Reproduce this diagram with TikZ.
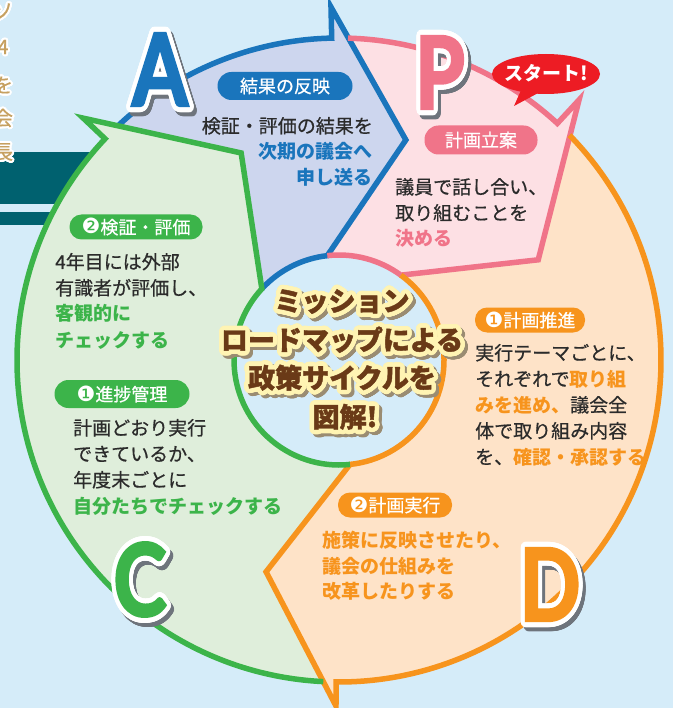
\documentclass[tikz,border=0pt]{standalone}
\usepackage{fontspec}
\setmainfont{Noto Sans CJK JP}[UprightFeatures={FakeBold=0.6}]
\newfontfamily\ttlfont{Noto Sans CJK JP}[BoldFeatures={FakeBold=1.6}]
\newfontfamily\djv{DejaVu Sans}
\newfontfamily\latn{Lato}[BoldFeatures={FakeBold=3}]
\usepackage{graphicx}
\usepackage[copies]{contour}
\contournumber{32}
\definecolor{bgc}{HTML}{D5ECF9}
\definecolor{blueO}{HTML}{1A75BC}
\definecolor{blueF}{HTML}{CDD6EE}
\definecolor{pinkO}{HTML}{F07489}
\definecolor{pinkF}{HTML}{FDE0E4}
\definecolor{oranO}{HTML}{F7941D}
\definecolor{oranF}{HTML}{FEE3C8}
\definecolor{grnO}{HTML}{3CB44A}
\definecolor{grnF}{HTML}{DFEEDB}
\definecolor{tealc}{HTML}{00616F}
\definecolor{txt}{HTML}{2B2B2B}
\definecolor{brn}{HTML}{6A3A17}
\definecolor{ylw}{HTML}{FFF4B3}
\definecolor{goldc}{HTML}{C6A060}
\definecolor{redc}{HTML}{ED1C24}
\definecolor{shd}{HTML}{6E747C}
\definecolor{tshd}{HTML}{9A8C72}
\newcommand\cnum[1]{{\djv\fontsize{21}{18}\selectfont #1}}
\begin{document}
\begin{tikzpicture}[x=1pt,y=-1pt,
  body/.style={inner sep=0pt, text=txt, font=\fontsize{19}{24}\selectfont, anchor=base west},
  pill/.style={rounded corners=12pt, inner sep=0pt, text=white, font=\fontsize{18}{18}\selectfont},
  big/.style={inner sep=0pt, font=\latn\bfseries\fontsize{100}{100}\selectfont},
  ttl/.style={inner sep=0pt, text=brn, font=\ttlfont\bfseries\fontsize{27}{27}\selectfont, anchor=base},
  ttlsh/.style={inner sep=0pt, text=tshd, font=\ttlfont\bfseries\fontsize{27}{27}\selectfont, anchor=base},
  goldt/.style={inner sep=0pt, text=goldc, font=\fontsize{20}{20}\selectfont},
  outl/.style={line width=5.5pt}
]
\useasboundingbox (0,0) rectangle (673,708);
\fill[bgc] (0,0) rectangle (673,708);
% left decorations
\fill[tealc] (0,152) rectangle (220,204);
\fill[tealc] (0,212) rectangle (220,225);
\node[goldt] (g1) at (3,12) {\contourlength{2pt}\contour{white}{ソ}};
\node[goldt] (g2) at (3,48) {\contourlength{2pt}\contour{white}{4}};
\node[goldt] (g3) at (3,86) {\contourlength{2pt}\contour{white}{を}};
\node[goldt] (g4) at (3,119) {\contourlength{2pt}\contour{white}{会}};
\node[goldt] (g5) at (3,153) {\contourlength{2pt}\contour{white}{長}};
% ring
\begin{scope}[shift={(339,360)}]
\fill[bgc] (0,0) circle[radius=105];
\fill[blueF] (-133.5:322) arc[start angle=-133.5,end angle=-91.3,radius=322] -- (-91.3:353) -- (-73.1:230) -- (-96.4:105) arc[start angle=-96.4,end angle=-137.3,radius=105] -- (-115.3:229) -- cycle;
\fill[pinkF] (-88.4:322) arc[start angle=-88.4,end angle=-47.3,radius=322] -- (-47.3:354) -- (-26.7:223) -- (-53.9:105) arc[start angle=-53.9,end angle=-96.4,radius=105] -- (-73.1:230) -- cycle;
\fill[oranF] (-44.3:322) arc[start angle=-44.3,end angle=90.5,radius=322] -- (90.5:346) -- (109:224) -- (84:105) arc[start angle=84,end angle=-53.9,radius=105] -- (-26.7:223) -- cycle;
\fill[grnF] (92.8:322) arc[start angle=92.8,end angle=223.4,radius=322] -- (223.4:352) -- (244.7:229) -- (222.7:105) arc[start angle=222.7,end angle=84,radius=105] -- (109:224) -- cycle;
\draw[outl,blueO] (-133.5:322) arc[start angle=-133.5,end angle=-91.3,radius=322] -- (-91.3:353) -- (-73.1:230) -- (-96.4:105) arc[start angle=-96.4,end angle=-137.3,radius=105];
\draw[outl,pinkO] (-88.4:322) arc[start angle=-88.4,end angle=-47.3,radius=322] -- (-47.3:354) -- (-26.7:223) -- (-53.9:105) arc[start angle=-53.9,end angle=-96.4,radius=105];
\draw[outl,oranO] (-44.3:322) arc[start angle=-44.3,end angle=90.5,radius=322] -- (90.5:346) -- (109:224) -- (84:105) arc[start angle=84,end angle=-53.9,radius=105];
\draw[outl,grnO] (92.8:322) arc[start angle=92.8,end angle=223.4,radius=322] -- (223.4:352) -- (244.7:229) -- (222.7:105) arc[start angle=222.7,end angle=84,radius=105];
\end{scope}
% pills
\node[pill, fill=blueO, minimum width=135pt, minimum height=28pt, rounded corners=14pt] (pA) at (285,86) {結果の反映};
\node[pill, fill=pinkO, minimum width=113pt, minimum height=29pt, rounded corners=14pt] (pP) at (481,140) {計画立案};
\node[pill, fill=grnO, minimum width=133pt, minimum height=25pt] (pC2) at (136,227) {\cnum{❷}検証・評価};
\node[pill, fill=oranO, minimum width=110pt, minimum height=25pt] (pD1) at (530,320) {\cnum{❶}計画推進};
\node[pill, fill=grnO, minimum width=135pt, minimum height=28pt, rounded corners=14pt] (pC1) at (122,394) {\cnum{❶}進捗管理};
\node[pill, fill=oranO, minimum width=114pt, minimum height=25pt] (pD2) at (395,505) {\cnum{❷}計画実行};
% A block
\node[body, anchor=base east] (tA1) at (373,133) {検証・評価の結果を};
\node[body, anchor=base east] (tA2) at (373,159) {\bfseries\color{blueO}次期の議会へ};
\node[body, anchor=base east] (tA3) at (373,185) {\bfseries\color{blueO}申し送る};
% P block
\node[body] (tP1) at (395,194) {議員で話し合い、};
\node[body] (tP2) at (395,220) {取り組むことを};
\node[body] (tP3) at (395,246) {\bfseries\color{pinkO}決める};
% check block
\node[body] (tC1) at (55,269) {4年目には外部};
\node[body] (tC2) at (55,295) {有識者が評価し、};
\node[body] (tC3) at (55,320) {\bfseries\color{grnO}客観的に};
\node[body] (tC4) at (55,347) {\bfseries\color{grnO}チェックする};
% progress block
\node[body] (tK1) at (73,435) {計画どおり実行};
\node[body] (tK2) at (73,461) {できているか、};
\node[body] (tK3) at (73,487) {年度末ごとに};
\node[body] (tK4) at (73,513) {\bfseries\color{grnO}自分たちでチェックする};
% suishin block
\node[body] (tS1) at (475,360) {実行テーマごとに、};
\node[body] (tS2) at (475,386) {それぞれで{\bfseries\color{oranO}取り組}};
\node[body] (tS3) at (475,412) {{\bfseries\color{oranO}みを進め、}議会全};
\node[body] (tS4) at (475,438) {体で取り組み内容};
\node[body] (tS5) at (475,464) {を、{\bfseries\color{oranO}確認・承認する}};
% jikko block
\node[body] (tJ1) at (322,547) {\bfseries\color{oranO}施策に反映させたり、};
\node[body] (tJ2) at (322,573) {\bfseries\color{oranO}議会の仕組みを};
\node[body] (tJ3) at (322,598) {\bfseries\color{oranO}改革したりする};
% big letters
\node[big, text=shd] (Ash) at (163,76) {\scalebox{0.8}[1]{\contourlength{5pt}\contour{shd}{A}}};
\node[big, text=blueO] (A) at (160,72) {\scalebox{0.8}[1]{\contourlength{5pt}\contour{white}{A}}};
\node[big, text=shd] (Psh) at (443,79) {\scalebox{0.8}[1]{\contourlength{5pt}\contour{shd}{P}}};
\node[big, text=pinkO] (P) at (440,75) {\scalebox{0.8}[1]{\contourlength{5pt}\contour{white}{P}}};
\node[big, text=shd] (Csh) at (143,586) {\scalebox{0.8}[1]{\contourlength{5pt}\contour{shd}{C}}};
\node[big, text=grnO] (C) at (140,582) {\scalebox{0.8}[1]{\contourlength{5pt}\contour{white}{C}}};
\node[big, text=shd] (Dsh) at (553,591) {\scalebox{0.8}[1]{\contourlength{5pt}\contour{shd}{D}}};
\node[big, text=oranO] (D) at (550,587) {\scalebox{0.8}[1]{\contourlength{5pt}\contour{white}{D}}};
% title
\node[ttlsh] (ts1) at (345,314) {\contourlength{4.5pt}\contour{tshd}{ミッション}};
\node[ttlsh] (ts2) at (345,353) {\contourlength{4.5pt}\contour{tshd}{ロードマップによる}};
\node[ttlsh] (ts3) at (345,391) {\contourlength{4.5pt}\contour{tshd}{政策サイクルを}};
\node[ttlsh] (ts4) at (348,430) {\contourlength{4.5pt}\contour{tshd}{図解!}};
\node[ttl] (tt1) at (342,311) {\contourlength{4.5pt}\contour{ylw}{ミッション}};
\node[ttl] (tt2) at (342,350) {\contourlength{4.5pt}\contour{ylw}{ロードマップによる}};
\node[ttl] (tt3) at (342,388) {\contourlength{4.5pt}\contour{ylw}{政策サイクルを}};
\node[ttl] (tt4) at (345,427) {\contourlength{4.5pt}\contour{ylw}{図解!}};
% start bubble
\fill[redc] (546,74) ellipse[x radius=54, y radius=20];
\fill[redc] (522,88) -- (514,106) -- (540,92) -- cycle;
\node[inner sep=0pt, text=white, font=\bfseries\fontsize{19}{19}\selectfont, anchor=base] (st) at (546,81) {スタート!};
\end{tikzpicture}
\end{document}
